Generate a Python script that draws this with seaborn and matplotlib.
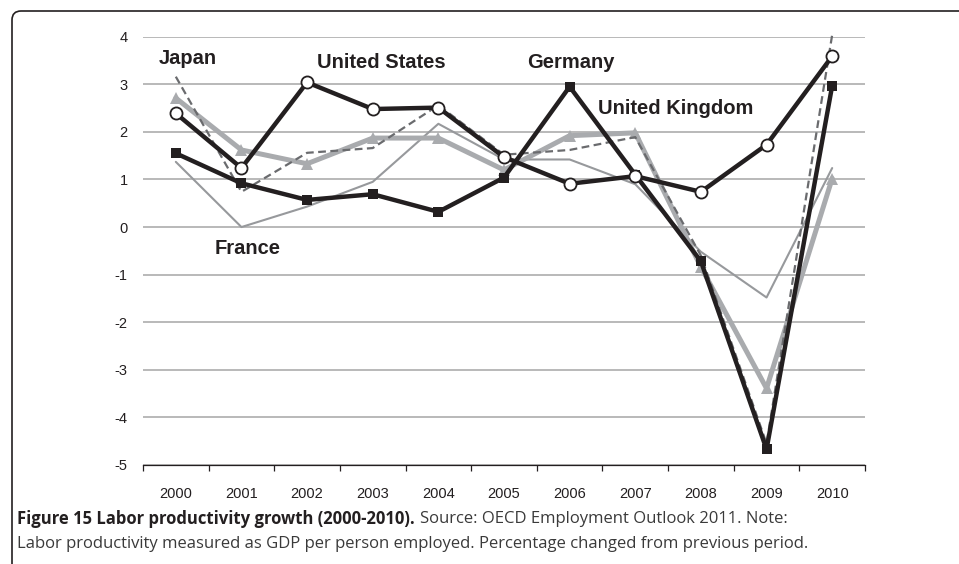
import numpy as np
import pandas as pd
import seaborn as sns
import matplotlib.pyplot as plt
from matplotlib.patches import FancyBboxPatch

# values (percent change from previous year)
years = [2000, 2001, 2002, 2003, 2004, 2005, 2006, 2007, 2008, 2009, 2010]
france = [1.37, 0.0, 0.43, 0.95, 2.17, 1.42, 1.42, 0.9, -0.52, -1.48, 1.24]
uk = [2.71, 1.62, 1.33, 1.87, 1.87, 1.2, 1.92, 1.98, -0.84, -3.39, 1.02]
japan = [3.16, 0.74, 1.56, 1.66, 2.56, 1.52, 1.62, 1.89, -0.6, -4.55, 4.04]
germany = [1.55, 0.92, 0.57, 0.69, 0.32, 1.04, 2.95, 1.1, -0.72, -4.67, 2.97]
us = [2.39, 1.24, 3.04, 2.48, 2.51, 1.47, 0.91, 1.07, 0.74, 1.73, 3.59]

ytick_vals = [-5, -4, -3, -2, -1, 0, 1, 2, 3, 4]

sns.set_theme(style="white")
plt.rcParams['font.family'] = ['Liberation Sans', 'DejaVu Sans']

W, H = 959, 564
fig = plt.figure(figsize=(W / 100, H / 100), dpi=100)
ax = fig.add_axes([143 / W, 1 - 465 / H, (865 - 143) / W, (465 - 36.7) / H])

BLACK = '#231f20'

sns.lineplot(x=years, y=france, ax=ax, color='#97999c', lw=1.5, zorder=3)
sns.lineplot(x=years, y=uk, ax=ax, color='#a9abae', lw=3.6, marker='^',
             markersize=8.5, markeredgewidth=0, zorder=4)
sns.lineplot(x=years, y=japan, ax=ax, color='#6a6b6e', lw=1.6, zorder=4,
             linestyle=(0, (3.5, 2)))
sns.lineplot(x=years, y=germany, ax=ax, color=BLACK, lw=3.2, marker='s',
             markersize=7, markeredgewidth=0, zorder=5)
sns.lineplot(x=years, y=us, ax=ax, color=BLACK, lw=3.2, marker='o',
             markersize=8.7, markerfacecolor='white', markeredgecolor=BLACK,
             markeredgewidth=1.3, zorder=6)
for ln in ax.lines:
    ln.set_clip_on(False)

ax.set_xlim(1999.5, 2010.5)
ax.set_ylim(-5, 4)
ax.set_yticks(ytick_vals)
ax.set_yticklabels([str(v) for v in ytick_vals], fontsize=10.5, color=BLACK)
ax.yaxis.grid(True, color='#a6a6a6', lw=1.1)
ax.set_axisbelow(True)
ax.set_xticks(years)
ax.set_xticklabels([str(y) for y in years], fontsize=10.5, color=BLACK)
ax.set_xticks(np.arange(1999.5, 2011, 1), minor=True)
ax.tick_params(axis='x', which='major', length=0, pad=16)
ax.tick_params(axis='x', which='minor', length=4, width=0.9, color=BLACK,
               direction='out', bottom=True)
ax.tick_params(axis='y', length=0, pad=11)
for s in ['top', 'right', 'left']:
    ax.spines[s].set_visible(False)
ax.spines['bottom'].set_color(BLACK)
ax.spines['bottom'].set_linewidth(0.9)
ax.set_xlabel('')
ax.set_ylabel('')


def put(txt, x, y):
    fig.text(x / W, 1 - y / H, txt, fontsize=14.5, fontweight='bold',
             color=BLACK, ha='center', va='center')


put('Japan', 188, 58)
put('United States', 381, 63)
put('Germany', 571, 63)
put('United Kingdom', 676, 109)
put('France', 248, 248)

# frame round the figure
frame = FancyBboxPatch((0.12, -1.0), 20, 6.53, boxstyle='round,pad=0,rounding_size=0.09',
                       transform=fig.dpi_scale_trans, fill=False, ec=BLACK, lw=1.2)
fig.add_artist(frame)

cap = ['Open Sans', 'DejaVu Sans']
t1 = fig.text(17 / W, 1 - 519 / H, 'Figure 15 Labor productivity growth (2000-2010).',
              fontsize=12, fontweight='bold', color=BLACK, family=cap, va='center')
fig.canvas.draw()
bb = t1.get_window_extent()
fig.text((bb.x1 + 5) / W, 1 - 519 / H,
         'Source: OECD Employment Outlook 2011. Note:',
         fontsize=12, color='#3a3a3a', family=cap, va='center')
fig.text(17 / W, 1 - 544 / H,
         'Labor productivity measured as GDP per person employed. Percentage changed from previous period.',
         fontsize=12, color='#3a3a3a', family=cap, va='center')

fig.savefig('out.png', dpi=100)
